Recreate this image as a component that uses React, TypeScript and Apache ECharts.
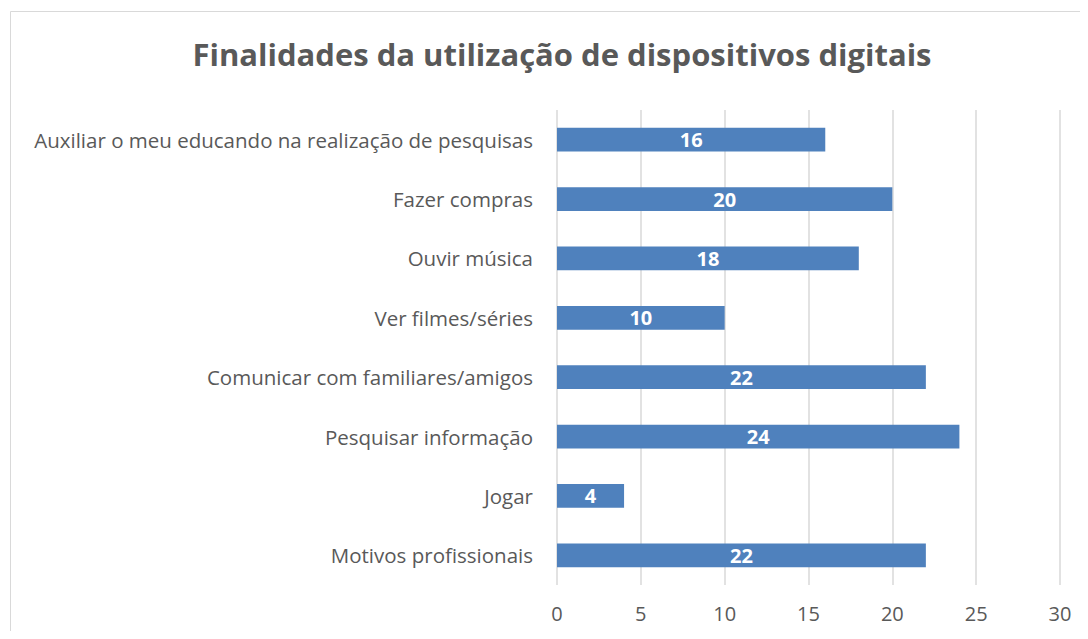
import React, { useEffect, useRef } from "react";
import * as echarts from "echarts";

const categories = [
  "Motivos profissionais",
  "Jogar",
  "Pesquisar informação",
  "Comunicar com familiares/amigos",
  "Ver filmes/séries",
  "Ouvir música",
  "Fazer compras",
  "Auxiliar o meu educando na realização de pesquisas",
];
const values = [22, 4, 24, 22, 10, 18, 20, 16];
const titleText = "Finalidades da utilização de dispositivos digitais";

const FONT = "Open Sans";

export default function App() {
  const ref = useRef<HTMLDivElement>(null);
  useEffect(() => {
    const chart = echarts.init(ref.current!, null, { renderer: "svg" });
    chart.setOption({
      animation: false,
      backgroundColor: "#ffffff",
      textStyle: { fontFamily: FONT },
      title: {
        text: titleText,
        left: 557,
        textAlign: "center",
        top: 33,
        textStyle: { fontSize: 31, fontWeight: "bold", color: "#595959", fontFamily: FONT },
      },
      graphic: [
        {
          type: "rect",
          shape: { x: 10.5, y: 11.5, width: 1100, height: 700 },
          style: { fill: "none", stroke: "#d9d9d9", lineWidth: 1 },
          silent: true,
        },
      ],
      grid: { left: 557, right: 28, top: 110, bottom: 54 },
      xAxis: {
        type: "value",
        min: 0,
        max: 30,
        interval: 5,
        axisLine: { show: false },
        axisTick: { show: false },
        splitLine: { show: true, lineStyle: { color: "#d9d9d9", width: 1.5 } },
        axisLabel: { color: "#595959", fontSize: 20, margin: 18, fontFamily: FONT },
      },
      yAxis: {
        type: "category",
        data: categories,
        axisLine: { show: false },
        axisTick: { show: false },
        axisLabel: { color: "#595959", fontSize: 20.5, margin: 24, fontFamily: FONT },
      },
      series: [
        {
          type: "bar",
          data: values,
          barWidth: "40%",
          itemStyle: { color: "#4f81bd" },
          label: {
            show: true,
            position: "inside",
            color: "#ffffff",
            fontWeight: "bold",
            fontSize: 20,
            fontFamily: FONT,
          },
        },
      ],
    });
    return () => chart.dispose();
  }, []);
  return <div ref={ref} style={{ width: 1088, height: 639, margin: -8 }} />;
}
